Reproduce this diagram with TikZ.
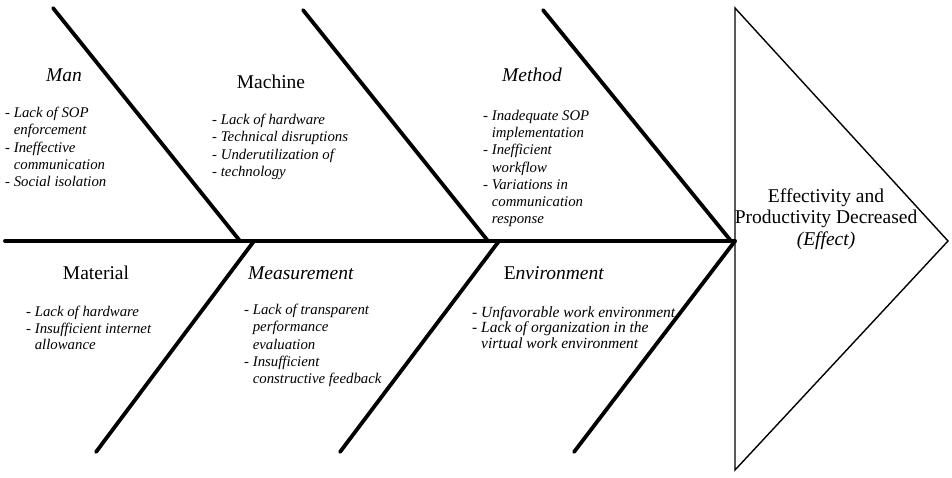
\documentclass[tikz,border=0pt]{standalone}
\usepackage{fontspec}
\setmainfont{Liberation Serif}
\begin{document}
\begin{tikzpicture}[x=1pt,y=-1pt,
  bone/.style={line width=3.8pt,line cap=round},
  head/.style={line width=1.4pt,line join=miter},
  cat/.style={font=\fontsize{19.5}{22}\selectfont,inner sep=0pt},
  items/.style={font=\fontsize{14.8}{17.2}\selectfont,align=left,anchor=north west,inner sep=0pt},
  effect/.style={font=\fontsize{19.5}{21.5}\selectfont,align=center,inner sep=0pt}]
\useasboundingbox (0,0) rectangle (952,477);
% key points
\coordinate (tail) at (5,241);
\coordinate (j1) at (240,241);
\coordinate (j2) at (488,241);
\coordinate (j3) at (731,241);
\coordinate (k1) at (254,241);
\coordinate (k2) at (499,241);
\coordinate (k3) at (735,241);
\coordinate (t1) at (53,8);
\coordinate (t2) at (303,10);
\coordinate (t3) at (543,10);
\coordinate (b1) at (96,452);
\coordinate (b2) at (340,452);
\coordinate (b3) at (574,452);
\coordinate (h1) at (735,8);
\coordinate (h2) at (735,470);
\coordinate (tip) at (948,241);
\coordinate (hm) at (735,241);
% head
\draw[head] (h1) -- (tip) -- (h2) -- cycle;
% spine and bones
\draw[bone] (tail) -- (hm);
\draw[bone] (t1) -- (j1);
\draw[bone] (t2) -- (j2);
\draw[bone] (t3) -- (j3);
\draw[bone] (k1) -- (b1);
\draw[bone] (k2) -- (b2);
\draw[bone] (k3) -- (b3);
% category titles
\node[cat] (man) at (64,75) {\textit{Man}};
\node[cat] (machine) at (271,82) {Machine};
\node[cat] (method) at (532,75) {\textit{Method}};
\node[cat] (material) at (96,273) {Material};
\node[cat] (measurement) at (301,273) {\textit{Measurement}};
\node[cat] (environment) at (554,273) {E\textit{nvironment}};
% items
\node[items] (manI) at (5,107) {- \textit{Lack of SOP}\\\phantom{- }\textit{enforcement}\\- \textit{Ineffective}\\\phantom{- }\textit{communication}\\- \textit{Social isolation}};
\node[items] (machineI) at (212,114) {- \textit{Lack of hardware}\\- \textit{Technical disruptions}\\- \textit{Underutilization of}\\- \textit{technology}};
\node[items] (methodI) at (483,110) {- \textit{Inadequate SOP}\\\phantom{- }\textit{implementation}\\- \textit{Inefficient}\\\phantom{- }\textit{workflow}\\- \textit{Variations in}\\\phantom{- }\textit{communication}\\\phantom{- }\textit{response}};
\node[items,font=\fontsize{14.8}{16.6}\selectfont] (materialI) at (26,306) {- \textit{Lack of hardware}\\- \textit{Insufficient internet}\\\phantom{- }\textit{allowance}};
\node[items] (measurementI) at (244,304) {- \textit{Lack of transparent}\\\phantom{- }\textit{performance}\\\phantom{- }\textit{evaluation}\\- \textit{Insufficient}\\\phantom{- }\textit{constructive feedback}};
\node[items,font=\fontsize{15.5}{15.7}\selectfont] (environmentI) at (472,306) {- \textit{Unfavorable work environment}\\- \textit{Lack of organization in the}\\\phantom{- }\textit{virtual work environment}};
% effect
\node[effect] (eff) at (826,219) {Effectivity and\\Productivity Decreased\\\textit{(Effect)}};
\end{tikzpicture}
\end{document}
